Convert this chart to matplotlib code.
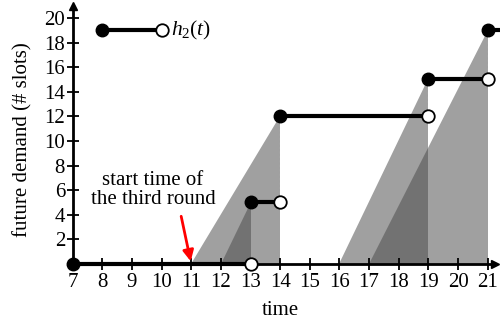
import matplotlib
matplotlib.use("Agg")
import matplotlib.pyplot as plt

plt.rcParams['font.family'] = ['Liberation Serif', 'DejaVu Serif']
plt.rcParams['mathtext.fontset'] = 'custom'
plt.rcParams['mathtext.it'] = 'Liberation Serif:italic'
plt.rcParams['mathtext.rm'] = 'Liberation Serif'

# step function h2(t): value holds from each break time to the next
break_times = [7, 13, 14, 19, 21]
step_values = [0, 5, 12, 15, 19]

# gray ramps: start time, end time, height reached at end
ramp_starts = [11, 12, 16, 17]
ramp_ends = [14, 13, 19, 21]
ramp_heights = [12, 5, 15, 19]

x_ticks = list(range(7, 22))
y_ticks = list(range(2, 21, 2))

fig = plt.figure(figsize=(5, 3.22), dpi=100)
ax = fig.add_axes([0, 0, 1, 1])
ax.set_xlim(4.547, 21.416)
ax.set_ylim(-4.715, 21.46)

# ramps (overlaps get darker)
for s, e, h in zip(ramp_starts, ramp_ends, ramp_heights):
    ax.fill([s, e, e], [0, 0, h], color=(0.29, 0.29, 0.29), alpha=0.526, lw=0, zorder=1)

# faint white dashes along the jumps of h2
for i in range(1, len(break_times)):
    if step_values[i - 1] > 0:
        ax.plot([break_times[i], break_times[i]], [step_values[i - 1], step_values[i]],
                color='white', lw=0.8, ls=(0, (2, 2)), alpha=0.7, zorder=1.5)

# axes
for side in ['top', 'right']:
    ax.spines[side].set_visible(False)
ax.spines['left'].set_position(('data', 7))
ax.spines['bottom'].set_position(('data', 0))
ax.spines['left'].set_bounds(0, 21.0)
ax.spines['bottom'].set_bounds(7, 21.2)
for side in ['left', 'bottom']:
    ax.spines[side].set_linewidth(2.0)
ax.plot(7, 21.0, marker='^', color='black', ms=6, zorder=5, clip_on=False)
ax.plot(21.25, 0, marker='>', color='black', ms=6, zorder=5, clip_on=False)

ax.set_xticks(x_ticks)
ax.set_yticks(y_ticks)
ax.tick_params(direction='inout', length=9, width=1.3, labelsize=15, pad=1)
ax.tick_params(axis='x', pad=2)

fig.text(0.56, 0.035, 'time', ha='center', va='center', fontsize=15)
fig.text(0.045, 0.565, 'future demand (# slots)', ha='center', va='center',
         rotation=90, fontsize=15)

# step segments
ends = break_times[1:] + [22]
for t0, t1, v in zip(break_times, ends, step_values):
    ax.plot([t0, t1], [v, v], color='black', lw=3, solid_capstyle='butt', zorder=3)
    ax.plot(t0, v, 'o', color='black', ms=9, zorder=4, clip_on=False)
    if t1 <= 21.4:
        ax.plot(t1, v, 'o', mfc='white', mec='black', mew=1.3, ms=9, zorder=4)

# legend
ax.plot([8, 10], [19, 19], color='black', lw=3, zorder=3)
ax.plot(8, 19, 'o', color='black', ms=9, zorder=4)
ax.plot(10, 19, 'o', mfc='white', mec='black', mew=1.3, ms=9, zorder=4)
ax.text(10.3, 19, r'$h_2(t)$', fontsize=15.5, va='center', ha='left')

# annotation
ax.text(9.71, 6.05, 'start time of\nthe third round', ha='center', va='center',
        fontsize=15, linespacing=1.0)
ax.annotate('', xy=(11, 0), xytext=(10.64, 4.1),
            arrowprops=dict(arrowstyle='-|>', color='red', lw=2, mutation_scale=16),
            zorder=6)

fig.savefig('out.png', dpi=100)
